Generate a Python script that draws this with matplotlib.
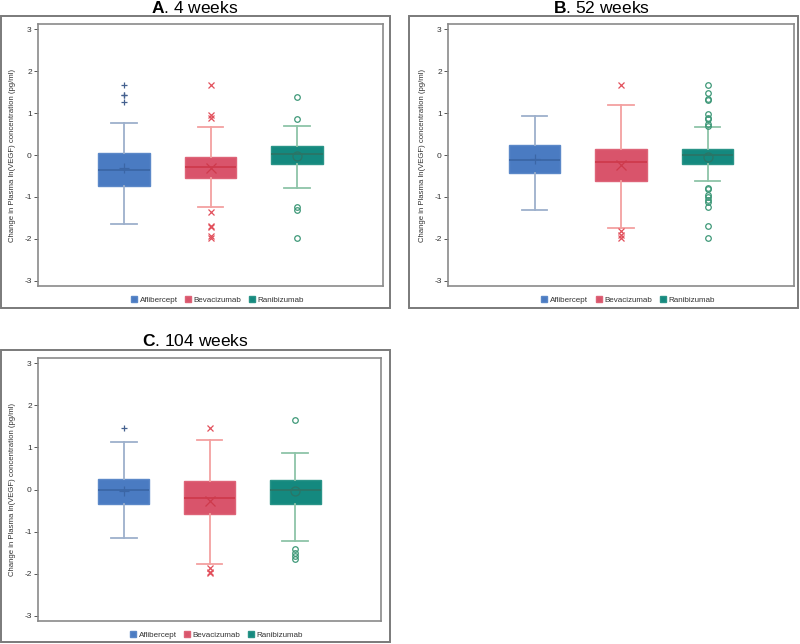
import matplotlib.pyplot as plt
from matplotlib.lines import Line2D
from matplotlib.patches import Rectangle

plt.rcParams['font.family'] = 'Liberation Sans'
plt.rcParams['mathtext.fontset'] = 'custom'
plt.rcParams['mathtext.rm'] = 'Liberation Sans'
plt.rcParams['mathtext.bf'] = 'Liberation Sans:bold'
plt.rcParams['axes.unicode_minus'] = False

# dados (resumo dos boxplots)
grupos = ["Aflibercept", "Bevacizumab", "Ranibizumab"]
paineis = ["A", "B", "C"]
semanas = ["4 weeks", "52 weeks", "104 weeks"]

# ordem: [Aflibercept, Bevacizumab, Ranibizumab]
q1_4 = [-0.74, -0.54, -0.21]
q3_4 = [0.055, -0.04, 0.21]
med_4 = [-0.36, -0.28, 0.02]
media_4 = [-0.30, -0.32, -0.02]
wlo_4 = [-1.65, -1.24, -0.79]
whi_4 = [0.77, 0.67, 0.70]
out_4 = [[1.66, 1.43, 1.42, 1.27],
         [1.66, 0.95, 0.87, -1.36, -1.68, -1.71, -1.93, -1.98],
         [1.39, 0.86, -1.24, -1.32, -1.97]]

q1_52 = [-0.42, -0.62, -0.21]
q3_52 = [0.24, 0.14, 0.15]
med_52 = [-0.13, -0.17, 0.0]
media_52 = [-0.10, -0.25, -0.04]
wlo_52 = [-1.32, -1.73, -0.62]
whi_52 = [0.93, 1.20, 0.67]
out_52 = [[],
          [1.66, -1.82, -1.90, -1.97],
          [1.66, 1.48, 1.33, 1.32, 0.97, 0.87, 0.85, 0.73, 0.70,
           -0.78, -0.82, -0.95, -0.99, -1.07, -1.13, -1.25, -1.68, -1.97]]

q1_104 = [-0.35, -0.58, -0.35]
q3_104 = [0.25, 0.21, 0.22]
med_104 = [-0.02, -0.19, 0.0]
media_104 = [-0.04, -0.27, -0.04]
wlo_104 = [-1.15, -1.76, -1.22]
whi_104 = [1.12, 1.17, 0.86]
out_104 = [[1.47],
           [1.45, -1.87, -1.95, -1.99],
           [1.66, -1.42, -1.51, -1.58, -1.64]]

dados = [
    (q1_4, q3_4, med_4, media_4, wlo_4, whi_4, out_4),
    (q1_52, q3_52, med_52, media_52, wlo_52, whi_52, out_52),
    (q1_104, q3_104, med_104, media_104, wlo_104, whi_104, out_104),
]

cor_caixa = ["#4A7BC2", "#D9546B", "#14897F"]
cor_borda = ["#5B88C8", "#DE6478", "#2A9488"]
cor_mediana = ["#3B66A6", "#CE3A4C", "#2B7566"]
cor_bigode = ["#9DB0CC", "#F3A0A0", "#8EC4A8"]
cor_outlier = ["#44608F", "#E2505C", "#3E9878"]
simbolos = ["+", "x", "o"]

W, H = 800, 644
fig = plt.figure(figsize=(8, 6.44), dpi=100)

# posicoes em pixels: (esq, topo, dir, baixo) dos eixos e da moldura externa
eixos_px = [(38, 24, 383, 286), (448, 24, 794, 286), (38, 358, 381, 621)]
moldura_px = [(1, 16, 390, 308), (409, 16, 798, 308), (1, 350, 390, 642)]
titulo_px = [(195, 8), (602, 8), (195, 341)]


def fx(x):
    return x / W


def fy(y):
    return 1 - y / H


for i in range(3):
    l, t, r, b = moldura_px[i]
    fig.patches.append(Rectangle((fx(l), fy(b)), fx(r - l), (b - t) / H,
                                 transform=fig.transFigure, fill=False,
                                 edgecolor="#7A7A7A", linewidth=1.4))
    l, t, r, b = eixos_px[i]
    ax = fig.add_axes([fx(l), fy(b), fx(r - l), (b - t) / H])

    q1, q3, med, media, wlo, whi, outs = dados[i]
    for k in range(3):
        stats = [dict(med=med[k], q1=q1[k], q3=q3[k], whislo=wlo[k],
                      whishi=whi[k], mean=media[k], fliers=outs[k])]
        ax.bxp(stats, positions=[k + 1], widths=0.6, showmeans=True,
               patch_artist=True,
               boxprops=dict(facecolor=cor_caixa[k], edgecolor=cor_borda[k], linewidth=1.0),
               medianprops=dict(color=cor_mediana[k], linewidth=1.3),
               whiskerprops=dict(color=cor_bigode[k], linewidth=1.3),
               capprops=dict(color=cor_bigode[k], linewidth=1.3),
               meanprops=dict(marker=simbolos[k], markersize=6.5,
                              markeredgecolor=cor_mediana[k],
                              markerfacecolor="none", markeredgewidth=0.9),
               flierprops=dict(marker=simbolos[k], markersize=4,
                               markeredgecolor=cor_outlier[k],
                               markerfacecolor="none", markeredgewidth=0.9,
                               linestyle="none"))

    ax.set_xlim(0, 4)
    ax.set_ylim(-3.12, 3.12)
    ax.set_xticks([])
    ax.set_yticks([-3, -2, -1, 0, 1, 2, 3])
    ax.tick_params(axis="y", labelsize=6, length=3, width=0.7,
                   color="#555555", labelcolor="#333333", pad=1.5)
    for s in ax.spines.values():
        s.set_color("#8A8A8A")
        s.set_linewidth(1.2)
    ax.set_ylabel("Change in Plasma ln(VEGF) concentration (pg/ml)",
                  fontsize=5.6, color="#333333", labelpad=6)

    alcas = [Line2D([], [], marker="s", linestyle="none", markersize=4.5,
                    markerfacecolor=cor_caixa[k], markeredgecolor=cor_borda[k])
             for k in range(3)]
    ax.legend(alcas, grupos, loc="upper center", bbox_to_anchor=(0.52, -0.012),
              ncol=3, frameon=False, fontsize=5.8, handletextpad=0.3,
              columnspacing=0.9, handlelength=0.8, labelcolor="#333333")

    tx, ty = titulo_px[i]
    fig.text(fx(tx), fy(ty), r"$\mathbf{" + paineis[i] + "}$. " + semanas[i],
             ha="center", va="center", fontsize=12.5)

fig.savefig("out.png", dpi=100)
